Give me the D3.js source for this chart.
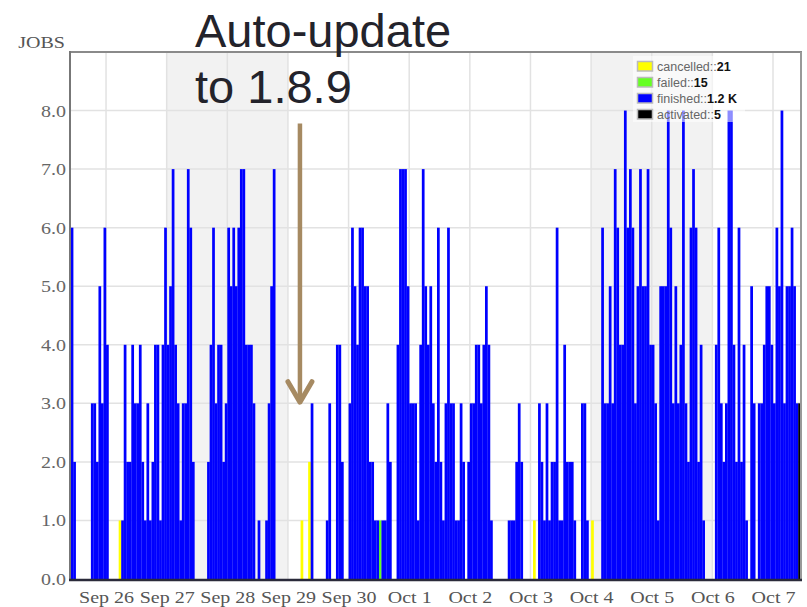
<!DOCTYPE html>
<html>
<head>
<meta charset="utf-8">
<script src="https://cdn.jsdelivr.net/npm/d3@7"></script>
<style>
  body { margin: 0; background: #fff; }
</style>
</head>
<body>
<svg id="chart" width="807" height="607"></svg>
<script>
// hourly bins, first bin starts Sep 25 2014 10:00
const binStart = new Date(2014, 8, 25, 10);
const domainStart = new Date(2014, 8, 25, 9, 44);
const domainEnd = new Date(2014, 9, 7, 11, 5);

// finished jobs per hour
const finished = [
  6, 2, 0, 0, 0, 0, 0, 0, 3, 3, 2, 5, 3, 6, 4, 0, 0, 0, 0, 0,
  1, 4, 2, 2, 4, 3, 3, 4, 2, 1, 3, 1, 2, 4, 4, 1, 4, 6, 4, 5,
  7, 4, 3, 1, 3, 3, 7, 6, 2, 0, 0, 0, 0, 0, 2, 4, 6, 3, 4, 4,
  2, 3, 6, 5, 6, 5, 6, 7, 7, 4, 4, 4, 3, 0, 1, 0, 0, 1, 3, 5,
  7, 0, 0, 0, 0, 0, 0, 0, 0, 0, 0, 0, 0, 0, 0, 3, 0, 0, 0, 0,
  0, 1, 3, 0, 0, 4, 4, 2, 0, 0, 3, 6, 5, 4, 6, 6, 5, 5, 2, 2,
  1, 1, 0, 1, 1, 3, 2, 0, 0, 4, 7, 7, 7, 5, 3, 3, 3, 1, 4, 7,
  5, 4, 5, 3, 2, 6, 2, 1, 3, 6, 3, 3, 1, 1, 3, 2, 0, 2, 3, 3,
  4, 4, 3, 4, 5, 4, 1, 0, 0, 0, 0, 0, 0, 1, 1, 1, 2, 3, 2, 0,
  0, 0, 0, 0, 0, 3, 2, 1, 3, 1, 2, 2, 6, 1, 1, 4, 2, 2, 2, 1,
  0, 0, 3, 3, 1, 0, 0, 0, 0, 0, 6, 3, 3, 5, 3, 7, 6, 4, 4, 8,
  6, 7, 6, 3, 5, 7, 5, 5, 7, 4, 4, 3, 1, 5, 5, 5, 8, 6, 3, 5,
  3, 4, 8, 3, 2, 6, 7, 6, 2, 4, 1, 0, 0, 0, 0, 4, 6, 3, 2, 3,
  8, 8, 4, 2, 6, 2, 4, 1, 0, 5, 3, 0, 3, 3, 4, 5, 5, 4, 3, 6,
  5, 8, 3, 5, 5, 6, 5, 3, 0
];
// sparse series: [bin index, count]
const cancelled = [[19, 1], [91, 1], [94, 2], [183, 1], [206, 1]];
const failed = [[122, 1]];
const activated = [[288, 3]];

const legendItems = [
  { key: 'cancelled', label: 'cancelled::', total: '21', color: '#ffff00' },
  { key: 'failed', label: 'failed::', total: '15', color: '#66ff22' },
  { key: 'finished', label: 'finished::', total: '1.2 K', color: '#0000ff' },
  { key: 'activated', label: 'activated::', total: '5', color: '#000000' },
];
const yTicks = [0, 1, 2, 3, 4, 5, 6, 7, 8];
const weekends = [[new Date(2014, 8, 27), new Date(2014, 8, 29)], [new Date(2014, 9, 4), new Date(2014, 9, 6)]];
const annotationTime = new Date(2014, 8, 29, 4, 45);

const margin = { top: 52, right: 6, bottom: 28, left: 70 };
const W = 807, H = 607;
const svg = d3.select('#chart');

const x = d3.scaleTime().domain([domainStart, domainEnd]).range([margin.left, W - margin.right]);
const y = d3.scaleLinear().domain([0, 9]).range([H - margin.bottom, margin.top]);

// build rows
function spread(list) {
  const arr = finished.map(() => 0);
  list.forEach(d => { arr[d[0]] = d[1]; });
  return arr;
}
const cArr = spread(cancelled), fArr = spread(failed), aArr = spread(activated);
const rows = finished.map((v, i) => ({
  t: d3.timeHour.offset(binStart, i),
  cancelled: cArr[i], failed: fArr[i], finished: v, activated: aArr[i],
}));
const stack = d3.stack().keys(legendItems.map(d => d.key))(rows);

// weekend shading
svg.append('g').selectAll('rect').data(weekends).enter().append('rect')
  .attr('x', d => x(d[0])).attr('y', margin.top)
  .attr('width', d => x(d[1]) - x(d[0])).attr('height', y(0) - margin.top)
  .attr('fill', '#f2f2f2');

// grid
svg.append('g').selectAll('line').data(yTicks.slice(1).concat([9])).enter().append('line')
  .attr('x1', margin.left).attr('x2', W - margin.right)
  .attr('y1', d => y(d)).attr('y2', d => y(d))
  .attr('stroke', '#e2e2e2').attr('stroke-width', 1.5);
const days = d3.timeDay.range(d3.timeDay.ceil(domainStart), domainEnd);
svg.append('g').selectAll('line').data(days).enter().append('line')
  .attr('x1', d => x(d)).attr('x2', d => x(d))
  .attr('y1', margin.top).attr('y2', y(0))
  .attr('stroke', '#e2e2e2').attr('stroke-width', 1.5);

// bars
const colorOf = {};
legendItems.forEach(d => { colorOf[d.key] = d.color; });
svg.append('g').selectAll('g').data(stack).enter().append('g')
  .attr('fill', d => colorOf[d.key])
  .selectAll('rect').data(d => d.filter(p => p[1] > p[0])).enter().append('rect')
  .attr('x', d => x(d.data.t))
  .attr('width', d => x(d3.timeHour.offset(d.data.t, 1)) - x(d.data.t) + 0.2)
  .attr('y', d => y(d[1]))
  .attr('height', d => y(d[0]) - y(d[1]));

// frame
svg.append('line').attr('x1', margin.left).attr('x2', W - margin.right + 1)
  .attr('y1', margin.top).attr('y2', margin.top).attr('stroke', '#8a8a8a').attr('stroke-width', 2);
svg.append('line').attr('x1', margin.left).attr('x2', margin.left)
  .attr('y1', margin.top - 1).attr('y2', y(0)).attr('stroke', '#777').attr('stroke-width', 2);
svg.append('line').attr('x1', W - margin.right).attr('x2', W - margin.right)
  .attr('y1', margin.top).attr('y2', y(0)).attr('stroke', '#999').attr('stroke-width', 2);
svg.append('line').attr('x1', margin.left - 1).attr('x2', W - margin.right + 1)
  .attr('y1', y(0) + 1).attr('y2', y(0) + 1).attr('stroke', '#2a2a3a').attr('stroke-width', 2.5);

// axes
const yAxis = svg.append('g').attr('transform', `translate(${margin.left},0)`)
  .call(d3.axisLeft(y).tickValues(yTicks).tickFormat(d3.format('.1f')).tickSize(0));
yAxis.select('.domain').remove();
yAxis.selectAll('text')
  .attr('x', 0).attr('dy', '0.34em')
  .attr('transform', 'translate(-4,0) scale(1.25,1)')
  .attr('font-family', 'Liberation Serif, serif').attr('font-size', 16).attr('fill', '#666');

const xAxis = svg.append('g').attr('transform', `translate(0,${y(0)})`)
  .call(d3.axisBottom(x).ticks(d3.timeDay.every(1)).tickFormat(d3.timeFormat('%b %-d')).tickSize(0));
xAxis.select('.domain').remove();
xAxis.selectAll('text')
  .attr('y', 0).attr('dy', 0)
  .attr('transform', 'translate(0,24) scale(1.25,1)')
  .attr('font-family', 'Liberation Serif, serif').attr('font-size', 16).attr('fill', '#555');

svg.append('text').attr('x', 0).attr('y', 0)
  .attr('transform', 'translate(65,48) scale(1.25,1)')
  .attr('text-anchor', 'end')
  .attr('font-family', 'Liberation Serif, serif').attr('font-size', 16).attr('fill', '#555')
  .text('JOBS');

// legend
const lg = svg.append('g').attr('transform', 'translate(637,61)');
lg.append('rect').attr('x', -4).attr('y', -5).attr('width', 112).attr('height', 66)
  .attr('fill', '#fff').attr('opacity', 0.55);
const li = lg.selectAll('g').data(legendItems).enter().append('g')
  .attr('transform', (d, i) => `translate(0,${i * 16})`);
li.append('rect').attr('x', 0.5).attr('y', 0.5).attr('width', 15).attr('height', 9.5)
  .attr('fill', d => d.color).attr('stroke', '#bbb').attr('stroke-width', 1.5);
const lt = li.append('text').attr('x', 20).attr('y', 10)
  .attr('font-family', 'Liberation Sans, Arial, sans-serif').attr('font-size', 12.5);
lt.append('tspan').attr('fill', '#666').text(d => d.label);
lt.append('tspan').attr('fill', '#111').attr('font-weight', 'bold').text(d => d.total);

// annotation
const ax = x(annotationTime);
const arrowColor = '#a68a62';
svg.append('line').attr('x1', ax).attr('x2', ax)
  .attr('y1', y(7.78)).attr('y2', y(3.05))
  .attr('stroke', arrowColor).attr('stroke-width', 4.5);
svg.append('path')
  .attr('d', `M${ax - 12},${y(3.37)} L${ax},${y(3.02)} L${ax + 12},${y(3.37)}`)
  .attr('fill', 'none').attr('stroke', arrowColor).attr('stroke-width', 5)
  .attr('stroke-linecap', 'round').attr('stroke-linejoin', 'round');
const note = svg.append('text')
  .attr('font-family', 'Liberation Sans, Arial, sans-serif').attr('font-size', 47).attr('fill', '#23232b');
note.append('tspan').attr('x', 195).attr('y', 47).text('Auto-update');
note.append('tspan').attr('x', 195).attr('y', 103).text('to 1.8.9');
</script>
</body>
</html>
